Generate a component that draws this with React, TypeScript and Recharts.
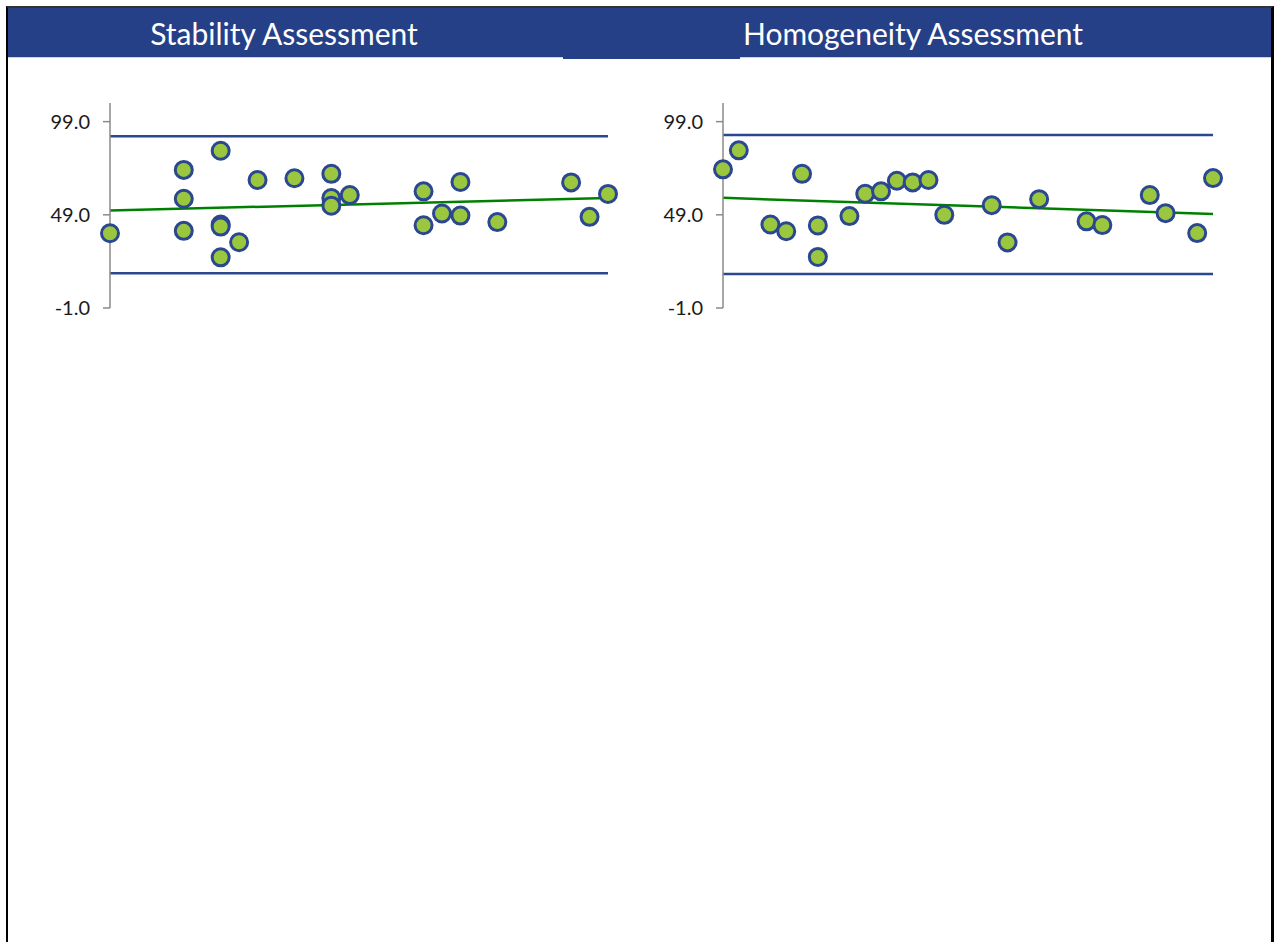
import { ComposedChart, Scatter, Line, XAxis, YAxis, ReferenceLine } from 'recharts';

// stability run: sample index vs measured value
const stabilityX = [1, 5, 5, 5, 7, 7, 7, 7, 8, 9, 11, 13, 13, 13, 14, 18, 18, 19, 20, 20, 22, 26, 27, 28];
const stabilityY = [39.1, 73.1, 57.6, 40.4, 83.4, 43.8, 42.7, 26.2, 34.3, 67.7, 68.6, 71, 58, 53.9, 59.6, 61.6, 43.4, 49.7, 66.6, 48.6, 45.1, 66.4, 47.9, 60.2];
const stabilityTrend = [51.3, 58];
const stabilityLimits = [91.2, 17.6];

// homogeneity run
const homogeneityX = [1, 2, 4, 5, 6, 7, 7, 9, 10, 11, 12, 13, 14, 15, 18, 19, 21, 24, 25, 28, 29, 31, 32];
const homogeneityY = [73.4, 83.6, 43.8, 40.2, 71, 43.3, 26.4, 48.3, 60.3, 61.6, 67.3, 66.4, 67.7, 49, 54.2, 34.2, 57.4, 45.5, 43.5, 59.6, 49.9, 39.2, 68.7];
const homogeneityTrend = [58.1, 49.5];
const homogeneityLimits = [91.8, 17.3];

const yTicks = [-1, 49, 99];
const titles = ['Stability Assessment', 'Homogeneity Assessment'];

const BLUE = '#264087';
const FONT = 'Lato, "Open Sans", sans-serif';

const Dot = (props: any) => {
  if (props.cx == null || props.cy == null) return <g />;
  return <circle cx={props.cx} cy={props.cy} r={8.5} fill="#9AC73E" stroke="#2B4790" strokeWidth={3} />;
};

interface PanelProps {
  xs: number[];
  ys: number[];
  trend: number[];
  limits: number[];
  left: number;
  width: number;
  axisWidth: number;
  rightPad: number;
}

function Panel({ xs, ys, trend, limits, left, width, axisWidth, rightPad }: PanelProps) {
  const points = xs.map((x, i) => ({ x, y: ys[i] }));
  const maxX = xs[xs.length - 1];
  const trendData = [
    { x: xs[0], y: trend[0] },
    { x: maxX, y: trend[1] },
  ];
  return (
    <div style={{ position: 'absolute', left, top: 60, width, height: 270 }}>
      <ComposedChart width={width} height={270} margin={{ top: 43, right: rightPad, bottom: 22, left: 0 }}>
        <XAxis type="number" dataKey="x" domain={[xs[0], maxX]} hide />
        <YAxis
          type="number"
          dataKey="y"
          domain={[-1, 109]}
          ticks={yTicks}
          interval={0}
          width={axisWidth}
          tickFormatter={(v: number) => v.toFixed(1)}
          axisLine={{ stroke: '#8A8A8A', strokeWidth: 1.5 }}
          tickLine={{ stroke: '#8A8A8A', strokeWidth: 1.5 }}
          tickSize={7}
          tickMargin={13}
          tick={{ fill: '#1a1a1a', fontSize: 20, fontFamily: FONT }}
        />
        {limits.map((v) => (
          <ReferenceLine key={v} y={v} stroke="#2B4790" strokeWidth={2.5} ifOverflow="extendDomain" />
        ))}
        <Line
          data={trendData}
          dataKey="y"
          type="linear"
          stroke="#008000"
          strokeWidth={2.5}
          dot={false}
          isAnimationActive={false}
        />
        <Scatter data={points} dataKey="y" shape={Dot} isAnimationActive={false} />
      </ComposedChart>
    </div>
  );
}

export default function App() {
  return (
    <div style={{ position: 'absolute', left: 0, top: 0, width: 1274, height: 942, overflow: 'hidden', background: '#fff', fontFamily: FONT }}>
      <div
        style={{
          position: 'absolute',
          left: 6,
          top: 6,
          width: 1263,
          height: 960,
          borderLeft: '2px solid #000',
          borderRight: '3px solid #000',
          borderTop: '2px solid #333',
        }}
      />
      <div style={{ position: 'absolute', left: 8, top: 8, width: 1263, height: 49, background: BLUE }} />
      <div style={{ position: 'absolute', left: 8, top: 57, width: 1263, height: 1, background: '#C9D1E4' }} />
      <div style={{ position: 'absolute', left: 563, top: 57, width: 177, height: 2, background: BLUE }} />
      {titles.map((t, i) => (
        <div
          key={t}
          style={{
            position: 'absolute',
            left: (i === 0 ? 284 : 913) - 250,
            top: 15,
            width: 500,
            textAlign: 'center',
            whiteSpace: 'nowrap',
            color: '#fff',
            fontSize: 30,
            lineHeight: '36px',
          }}
        >
          {t}
        </div>
      ))}
      <Panel
        xs={stabilityX}
        ys={stabilityY}
        trend={stabilityTrend}
        limits={stabilityLimits}
        left={0}
        width={630}
        axisWidth={110}
        rightPad={22}
      />
      <Panel
        xs={homogeneityX}
        ys={homogeneityY}
        trend={homogeneityTrend}
        limits={homogeneityLimits}
        left={620}
        width={610}
        axisWidth={103}
        rightPad={17}
      />
    </div>
  );
}
